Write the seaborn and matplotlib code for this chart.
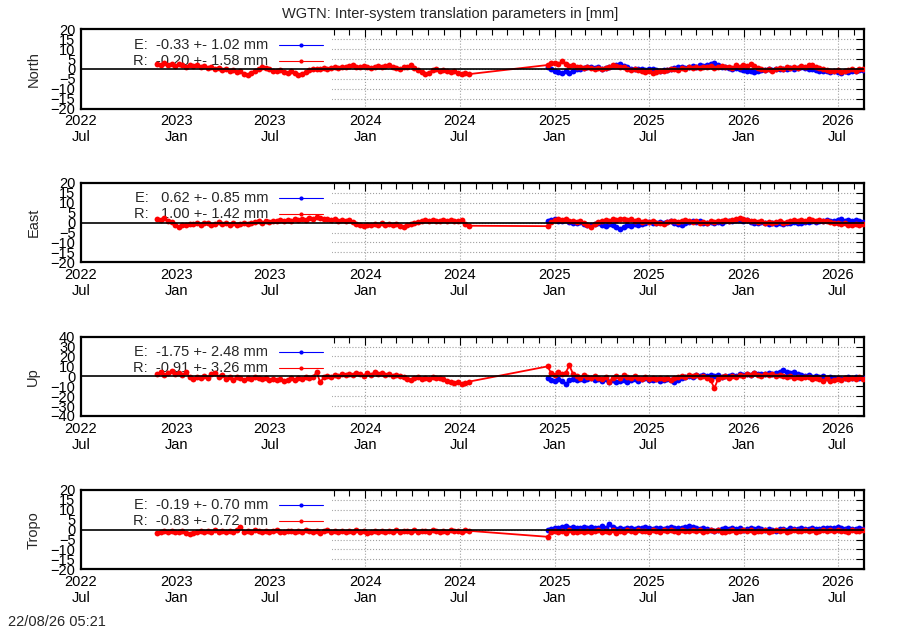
import matplotlib
matplotlib.use("Agg")
import matplotlib.pyplot as plt
import matplotlib.dates as mdates
from matplotlib.patches import Rectangle
import numpy as np
import pandas as pd
import seaborn as sns

# weekly samples (mm)
seg1_start = "2022-11-25"
seg2_start = "2024-12-18"

north_r1 = [2.5, 2.0, 3.0, 2.2, 2.6, 1.6, 2.4, 2.0, 1.2, 2.1,
            1.5, 2.2, 1.0, 1.6, 0.6, 1.1, 0.0, 0.6, -0.5, 0.2,
            -1.0, -0.4, -1.6, -1.2, -2.6, -3.0, -1.8, -0.8, 0.2, 1.0,
            0.6, 0.0, -0.8, -1.2, -0.6, -1.4, -1.8, -1.2, -2.2, -3.2,
            -2.4, -1.4, -0.6, -0.2, 0.2, 0.0, 0.4, 0.2, 0.6, 0.8,
            0.4, 1.0, 0.8, 1.6, 2.2, 1.2, 0.8, 1.4, 1.0, 0.6,
            1.2, 1.6, 0.8, 1.4, 2.0, 1.0, 0.6, 0.2, 0.8, 1.2,
            1.8, 0.6, -0.6, -1.6, -2.6, -1.8, -0.6, -0.2, -0.8, -0.4,
            -1.0, -1.6, -1.2, -2.0, -2.4, -1.8, -2.6]
north_r2 = [2.0, 2.8, 3.2, 2.4, 3.8, 2.6, 1.4, 2.0, 0.8, 1.2,
            0.4, 1.0, 0.6, -0.2, 0.4, 0.0, 0.6, 1.2, 1.8, 1.4,
            0.8, 1.2, 0.2, -0.4, 0.0, -0.6, -1.2, -1.6, -1.0, -1.8,
            -1.4, -0.8, -1.2, -0.6, -0.2, 0.2, -0.4, 0.4, 0.0, 0.8,
            0.4, 1.0, 0.6, 1.2, 0.8, 1.4, 0.6, 1.0, 1.6, 0.8,
            1.2, 0.6, 1.8, 1.0, 2.2, 1.4, 2.4, 1.6, 0.4, 0.0,
            -0.4, 0.2, -0.8, -0.2, 0.4, 0.0, 0.8, 0.4, 1.2, 0.6,
            1.4, 1.0, 1.8, 2.0, 1.2, 0.4, 0.0, -0.4, -0.8, -1.2,
            -0.6, -1.4, -1.0, -0.6, -0.2, -0.8, 0.0, 0.2]
north_e2 = [1.0, 0.2, -0.8, -1.6, -2.0, -1.2, -1.8, -0.8, -0.2, 0.2,
            0.4, 0.8, 1.2, 0.6, 1.0, 0.2, 0.6, 0.8, 1.4, 2.0,
            2.4, 1.6, 0.8, 0.2, 0.0, -0.2, 0.2, -0.4, 0.0, -0.2,
            -0.6, -0.8, -0.4, -0.6, 0.0, 0.4, 0.8, 1.0, 0.6, 1.2,
            1.4, 1.0, 1.8, 1.4, 2.0, 2.4, 3.0, 2.0, 1.2, 0.8,
            0.6, 0.2, 0.4, 0.0, -0.4, -0.8, -1.0, -1.4, -0.8, -0.6,
            -0.4, -0.2, -0.6, 0.0, 0.2, -0.2, 0.0, 0.4, 0.2, 0.6,
            0.8, 0.4, 0.2, -0.2, -0.6, -1.0, -1.2, -0.8, -1.4, -1.2,
            -1.6, -1.8, -1.2, -1.4, -0.8, -1.0, -0.4, -0.6]

east_r1 = [2.0, 1.4, 2.2, 1.0, 0.4, -1.2, -2.0, -1.0, -1.4, -0.6,
           -0.8, 0.0, -1.0, -0.4, -0.2, -1.0, -0.6, 0.2, -0.8, -0.2,
           -1.0, -0.4, -1.2, -0.6, 0.0, -0.8, -0.2, 0.2, 0.6, 0.0,
           0.8, 0.4, 1.0, 0.6, 1.4, 0.8, 1.2, 0.6, 1.6, 1.2,
           2.0, 1.4, 2.4, 1.8, 2.8, 2.2, 1.6, 2.0, 1.2, 1.6,
           1.0, 1.4, 0.8, 1.2, 0.2, -0.6, -1.2, -1.8, -1.0, -1.4,
           -0.6, -1.0, -0.4, -1.2, -0.8, -1.4, -0.6, -1.8, -2.2, -1.2,
           -0.8, -0.2, 0.2, 0.6, 1.2, 0.8, 1.4, 1.0, 0.6, 1.2,
           0.8, 1.4, 1.0, 0.6, 1.2, -0.6, -1.6]
east_r2 = [-1.8, 0.4, 1.2, 2.0, 1.4, 1.8, 0.6, 1.0, 0.2, 0.8,
           0.0, -1.2, -2.2, -0.6, 0.4, 0.8, 1.4, 0.6, 1.6, 1.2,
           2.0, 1.6, 1.2, 1.8, 1.0, 1.4, 0.4, 0.8, 0.2, 0.6,
           -0.4, 0.0, -0.6, 0.2, 0.6, 1.0, 0.4, 0.8, 1.2, 0.6,
           0.2, 0.8, 0.0, 0.4, -0.2, 0.6, 0.2, 1.0, 0.6, 1.2,
           0.8, 1.4, 1.8, 2.2, 1.6, 1.2, 0.8, 1.0, 0.4, 0.6,
           0.0, 0.4, -0.2, 0.2, 0.6, 0.0, 0.4, 0.8, 1.2, 0.6,
           1.4, 1.0, 1.6, 1.2, 0.8, 1.4, 0.6, 1.0, 0.4, 0.0,
           -0.4, -0.8, -0.2, -1.0, -1.4, -0.6, -1.2, -0.8]
east_e2 = [0.8, 1.4, 1.8, 1.0, 0.6, 1.2, 0.4, 0.0, -0.4, 0.2,
           -0.6, -1.0, -1.4, -0.8, -0.4, -1.0, -1.6, -0.8, -1.4, -2.0,
           -3.0, -2.2, -1.2, -1.8, -0.8, -1.4, -0.6, -0.2, 0.2, -0.2,
           0.0, 0.4, -0.2, 0.2, 0.6, 0.0, -0.6, -1.2, -0.4, 0.2,
           0.6, 0.2, 0.8, 0.0, -0.4, 0.2, -0.2, 0.4, 0.0, 0.6,
           1.0, 0.6, 1.2, 1.4, 0.8, 1.2, 0.4, 0.0, -0.4, 0.2,
           -0.2, -0.6, -0.2, -0.8, -0.4, -0.6, 0.0, -0.4, 0.2, -0.2,
           0.0, 0.4, 0.2, 0.6, 0.4, 0.8, 0.6, 1.2, 1.0, 0.8,
           1.2, 1.6, 1.0, 1.4, 0.8, 1.2, 0.6, 0.4]

up_r1 = [2.0, 4.0, 1.0, 3.4, 5.0, 2.4, 3.8, 1.2, 4.2, -1.0,
         -2.6, -0.8, -2.0, 0.4, -1.6, 2.0, 3.2, -0.4, 1.6, -2.8,
         -1.2, -3.4, -0.6, -2.0, -3.6, -1.4, -2.6, -0.8, -1.8, -3.0,
         -2.0, -3.8, -2.6, -4.2, -3.0, -4.6, -3.4, -2.2, -3.6, -1.8,
         -2.8, -0.6, -1.6, -0.4, 4.0, -6.0, -1.0, 0.8, -0.4, 1.6,
         0.6, 2.2, 1.0, 2.8, 1.4, 3.4, 2.0, 0.8, 3.0, 1.6,
         4.2, 2.4, 3.0, 1.6, 2.6, 0.8, 1.8, 0.2, -1.2, -2.8,
         -3.6, -1.8, -1.0, -2.6, -1.4, -3.0, -0.8, -2.2, -1.6, -3.2,
         -4.4, -5.6, -7.0, -6.2, -7.8, -6.6, -5.4]
up_r2 = [10.0, 3.0, 1.4, 4.0, 2.2, 3.6, 11.0, 2.6, 0.8, -1.4,
         1.6, -0.6, -2.2, 0.4, -1.8, -3.0, -0.8, -5.4, -1.6, 0.6,
         -2.0, 1.0, -0.6, -1.8, 0.8, -1.4, -2.6, -0.4, -2.8, -1.6,
         -3.2, -2.0, -2.8, -1.6, -3.4, -2.2, -1.0, 0.4, -0.6, 1.0,
         0.2, 1.2, -0.4, 0.6, -1.8, -4.0, -12.0, -3.0, -1.2, 0.4,
         -1.6, 0.8, -0.4, 1.4, 0.2, 2.2, 1.0, 3.0, 1.6, 0.6,
         2.0, 1.2, 2.4, 0.8, 1.6, 0.2, -0.8, 0.4, -1.6, -0.6,
         -2.0, -1.2, -0.4, -2.4, -1.4, -3.0, -4.6, -2.2, -5.0, -3.4,
         -2.6, -4.0, -2.0, -3.2, -1.6, -2.8, -1.2, -2.4]
up_e2 = [-2.0, -3.6, -4.4, -2.8, -5.2, -8.0, -4.0, -2.6, -3.8, -2.4,
         -4.2, -3.0, -1.8, -3.6, -2.4, -4.6, -3.2, -5.8, -4.2, -6.0,
         -4.8, -3.6, -5.4, -4.0, -3.0, -4.4, -3.2, -2.0, -3.6, -4.2,
         -3.0, -4.6, -3.4, -2.6, -4.0, -5.4, -3.6, -2.2, -1.0, 0.4,
         -0.6, 1.2, 0.4, 1.8, 0.8, 1.6, 0.2, 1.0, -0.4, 0.8,
         0.2, 1.4, 0.6, 2.0, 1.2, 2.6, 1.6, 3.0, 2.2, 2.8,
         2.0, 3.4, 2.6, 3.8, 4.6, 6.6, 4.2, 3.4, 4.0, 2.4,
         1.8, 0.6, 1.2, -0.4, 0.4, -1.0, -0.2, -1.6, -0.8, -2.0,
         -1.4, -2.6, -1.8, -1.0, -2.2, -1.2, -2.0, -1.6]

tropo_r1 = [-1.6, -1.0, -0.8, -1.2, -0.6, -1.0, -1.4, -0.8, -1.8, -2.4,
            -1.6, -1.0, -0.6, -1.2, -0.8, -1.4, -0.4, -1.0, -0.6, -1.2,
            -0.8, -1.4, -0.2, 1.4, -1.0, -0.6, -1.2, -0.4, -0.8, -1.0,
            -0.6, -1.2, -0.8, -0.4, -1.0, -1.4, -0.6, -0.8, -1.2, -0.6,
            -1.0, -0.4, -0.8, -1.2, -0.6, -1.6, -0.8, -0.2, -1.0, -0.6,
            -1.2, -0.8, -1.4, -0.6, -1.0, -0.4, -1.2, -0.8, -1.6, -1.0,
            -0.6, -1.2, -0.8, -1.4, -0.6, -1.0, -0.4, -1.2, -0.8, -0.6,
            -1.0, -0.4, -1.2, -0.8, -0.6, -1.0, -0.2, -0.8, -1.2, -0.6,
            -1.0, -0.4, -0.8, -0.6, -1.0, -0.4, -0.6]
tropo_r2 = [-3.6, -1.2, -0.6, -1.4, -0.8, -1.6, -0.4, -1.0, -1.4, -0.6,
            -1.0, -0.6, -1.4, -0.8, -0.2, -1.2, -0.6, -1.0, -0.4, -1.6,
            -0.8, -1.2, -0.4, -0.6, -1.0, -0.2, -0.8, -0.6, -1.2, -0.4,
            -0.6, -1.0, -0.4, -0.8, -0.2, -0.6, -1.0, -0.4, -0.8, -0.6,
            -0.2, -0.8, -0.4, -1.2, -0.6, -0.4, -0.8, -0.2, -1.0, -1.4,
            -0.8, -0.4, -1.2, -0.6, -0.2, -0.8, -0.4, -1.0, -0.6, -0.8,
            -0.4, -1.0, -0.6, -0.2, -0.8, -0.4, -1.0, -0.6, -0.2, -0.8,
            -0.6, -0.2, -0.8, -0.4, -1.0, -0.6, -0.2, -0.8, -0.4, -0.6,
            -0.2, -0.8, -0.6, -1.0, -0.4, -0.8, -0.6, -0.4]
tropo_e2 = [-0.4, 0.4, 0.8, 0.6, 1.2, 1.6, 0.8, 1.4, 1.0, 0.6,
            1.2, 0.8, 1.4, 0.6, 1.0, 1.6, 0.8, 2.8, 1.2, 0.4,
            0.8, 0.2, 0.6, 1.0, 0.4, 0.8, 0.6, 1.2, 0.8, 0.4,
            0.6, 1.0, 0.4, 0.8, 1.2, 0.6, 1.0, 0.8, 1.4, 1.8,
            1.2, 0.8, 0.4, 0.6, 0.2, 0.0, -0.6, -0.2, 0.4, 0.6,
            0.2, 0.8, 0.4, 0.6, 0.0, 0.4, 0.8, 0.2, 0.6, 0.4,
            0.0, 0.4, -0.2, -0.6, 0.2, 0.4, 0.0, 0.6, 0.2, 0.4,
            0.6, 0.2, 0.4, 0.8, 0.4, 0.2, 0.6, 0.8, 1.0, 0.6,
            1.2, 0.8, 0.4, 0.6, 0.2, 0.4, 0.6, 0.2]

panel_names = ["North", "East", "Up", "Tropo"]
e_stats = ["-0.33 +- 1.02 mm", " 0.62 +- 0.85 mm", "-1.75 +- 2.48 mm", "-0.19 +- 0.70 mm"]
r_stats = ["-0.20 +- 1.58 mm", " 1.00 +- 1.42 mm", "-0.91 +- 3.26 mm", "-0.83 +- 0.72 mm"]
y_limits = [20, 20, 40, 20]
y_steps = [5, 5, 10, 5]

sns.set_theme(style="white")
plt.rcParams["font.family"] = ["Liberation Sans", "DejaVu Sans"]

fig = plt.figure(figsize=(9, 6.3), dpi=100)

red_series = [(north_r1, north_r2), (east_r1, east_r2), (up_r1, up_r2), (tropo_r1, tropo_r2)]
blue_series = [north_e2, east_e2, up_e2, tropo_e2]
bottoms = [0.8275, 0.5837, 0.3397, 0.0963]
fs = 10.5

for i in range(4):
    ax = fig.add_axes([0.09, bottoms[i], 0.87, 0.126])
    r1, r2 = red_series[i]
    d1 = pd.date_range(seg1_start, periods=len(r1), freq="7D")
    d2 = pd.date_range(seg2_start, periods=len(r2), freq="7D")
    red_df = pd.DataFrame({"date": list(d1) + list(d2), "val": r1 + r2})
    blue_df = pd.DataFrame({"date": pd.date_range(seg2_start, periods=len(blue_series[i]), freq="7D"),
                            "val": blue_series[i]})

    sns.lineplot(data=blue_df, x="date", y="val", ax=ax, color="#0000ff", marker="o",
                 markersize=4.2, markeredgewidth=0, linewidth=1.3, estimator=None, zorder=3)
    sns.lineplot(data=red_df, x="date", y="val", ax=ax, color="#ff0000", marker="o",
                 markersize=4.2, markeredgewidth=0, linewidth=1.3, estimator=None, zorder=4)

    lim = y_limits[i]
    ax.set_ylim(-lim, lim)
    ax.set_yticks(np.arange(-lim, lim + 1, y_steps[i]))
    ax.set_xlim(pd.Timestamp("2022-07-01"), pd.Timestamp("2026-08-21"))
    ax.xaxis.set_major_locator(mdates.MonthLocator(bymonth=[1, 7]))
    ax.xaxis.set_minor_locator(mdates.MonthLocator())
    ax.xaxis.set_major_formatter(mdates.DateFormatter("%Y\n%b"))

    ax.grid(True, which="major", color="#a0a0a0", linestyle=":", linewidth=0.8)
    ax.set_axisbelow(True)
    # opaque key box hides the grid on the left
    ax.add_patch(Rectangle((0, 0), 0.32, 1, transform=ax.transAxes,
                           facecolor="white", edgecolor="none", zorder=1))
    ax.axhline(0, color="black", linewidth=1.2, zorder=5)

    ax.tick_params(axis="both", which="both", direction="in", top=True, right=True,
                   labelsize=fs, colors="black", pad=4)
    ax.tick_params(axis="both", which="major", length=6, width=0.8)
    ax.tick_params(axis="x", which="minor", length=4, width=0.8)
    for s in ax.spines.values():
        s.set_linewidth(1.6)
        s.set_color("black")

    ax.set_xlabel("")
    ax.set_ylabel(panel_names[i], fontsize=fs)
    ax.yaxis.set_label_coords(-0.052, 0.5)

    # key entries
    for k, (lab, txt, col) in enumerate([("E:", e_stats[i], "#0000ff"),
                                         ("R:", r_stats[i], "#ff0000")]):
        yy = 0.805 - k * 0.2
        ax.text(0.239, yy, lab + "  " + txt, transform=ax.transAxes, ha="right",
                va="center", fontsize=fs, zorder=2)
        ax.plot([0.253, 0.309], [yy, yy], transform=ax.transAxes, color=col,
                linewidth=0.8, zorder=2)
        ax.plot([0.281], [yy], transform=ax.transAxes, color=col, marker="o",
                markersize=3, markeredgewidth=0, zorder=2)

fig.text(0.5, 1 - 14 / 630, "WGTN: Inter-system translation parameters in [mm]",
         ha="center", va="center", fontsize=fs)
fig.text(8 / 900, 1 - 622 / 630, "22/08/26 05:21", ha="left", va="center", fontsize=fs)

fig.savefig("out.png", dpi=100)
